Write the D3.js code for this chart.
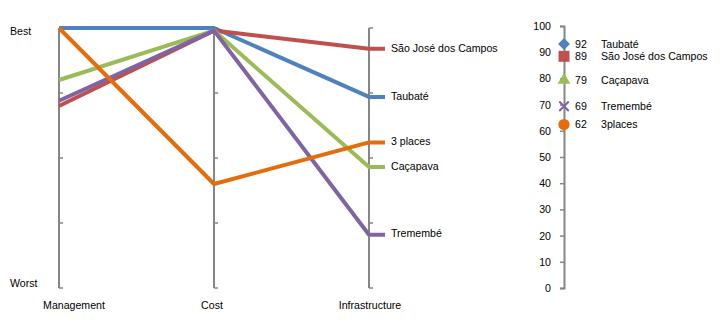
<!DOCTYPE html>
<html>
<head>
<meta charset="utf-8">
<script src="https://cdn.jsdelivr.net/npm/d3@7"></script>
<style>
  body { margin: 0; background: #fff; }
  svg text { font-family: "Liberation Sans", Arial, sans-serif; font-size: 10.6px; fill: #000; }
</style>
</head>
<body>
<div id="chart"></div>
<script>
// criteria on the parallel axes
const criteria = ["Management", "Cost", "Infrastructure"];
const places = ["Taubaté", "São José dos Campos", "Caçapava", "Tremembé", "3 places"];
const taubate = [100, 100, 73.5];
const saoJose = [70, 99, 92];
const cacapava = [80, 99, 46.5];
const tremembe = [72, 99, 20.5];
const threePlaces = [100, 40, 56];
const rankLabels = ["Best", "Worst"];

// overall score (right-hand axis)
const scoreNames = ["Taubaté", "São José dos Campos", "Caçapava", "Tremembé", "3places"];
const scores = [92, 89, 79, 69, 62];
const scoreTicks = [0, 10, 20, 30, 40, 50, 60, 70, 80, 90, 100];

const colors = ["#4F81BD", "#C0504D", "#9BBB59", "#8064A2", "#E46C0A"];
// diamond = square turned 45deg (d3's own diamond is too narrow)
const shapes = [d3.symbolSquare, d3.symbolSquare, d3.symbolTriangle, d3.symbolX, d3.symbolCircle];
const shapeSizes = [70, 120, 70, 60, 100];
const shapeRotate = [45, 0, 0, 0, 0];

const width = 723, height = 324;
const svg = d3.select("#chart").append("svg")
    .attr("width", width)
    .attr("height", height);

const x = d3.scalePoint().domain(criteria).range([59, 369]);
const y = d3.scaleLinear().domain([0, 100]).range([288, 28]);
const axisColor = "#868686";

// parallel axes
criteria.forEach(c => {
    const g = svg.append("g").attr("transform", `translate(${x(c)},0)`);
    g.append("line")
        .attr("y1", y(0)).attr("y2", y(100))
        .attr("stroke", axisColor).attr("stroke-width", 2);
    g.selectAll(".tk").data([0, 25, 50, 75, 100]).enter().append("line")
        .attr("x1", 0).attr("x2", 4)
        .attr("y1", d => y(d)).attr("y2", d => y(d))
        .attr("stroke", axisColor).attr("stroke-width", 1.5);
});

svg.selectAll(".cat").data(criteria).enter().append("text")
    .attr("x", (d, i) => x(d) + (i === 0 ? 15 : i === 1 ? -2 : 1))
    .attr("y", 305)
    .attr("dy", "0.35em")
    .attr("text-anchor", "middle")
    .text(d => d);

svg.append("text").attr("x", 10).attr("y", y(100) + 3).attr("dy", "0.35em").text(rankLabels[0]);
svg.append("text").attr("x", 10).attr("y", y(0) - 5).attr("dy", "0.35em").text(rankLabels[1]);

// series lines
const series = [taubate, saoJose, cacapava, tremembe, threePlaces];
const stub = 16;
const line = d3.line().x(d => d[0]).y(d => y(d[1]));
series.forEach((vals, i) => {
    const pts = vals.map((v, j) => [x(criteria[j]), v]);
    pts.push([x(criteria[criteria.length - 1]) + stub, vals[vals.length - 1]]);
    svg.append("path")
        .datum(pts)
        .attr("d", line)
        .attr("fill", "none")
        .attr("stroke", colors[i])
        .attr("stroke-width", 4)
        .attr("stroke-linejoin", "round");
    svg.append("text")
        .attr("x", x(criteria[criteria.length - 1]) + stub + 6)
        .attr("y", y(vals[vals.length - 1]) - 1)
        .attr("dy", "0.35em")
        .text(places[i]);
});

// score axis on the right
const ys = d3.scaleLinear().domain([0, 100]).range([288, 26]);
const sx = 564;
const scoreAxis = svg.append("g")
    .attr("transform", `translate(${sx},0)`)
    .call(d3.axisLeft(ys).tickValues(scoreTicks).tickSize(4).tickPadding(9).tickSizeOuter(4));
scoreAxis.select(".domain").attr("stroke", axisColor).attr("stroke-width", 2);
scoreAxis.selectAll(".tick line").attr("stroke", axisColor).attr("stroke-width", 1.5);
scoreAxis.selectAll(".tick text")
    .style("font-family", "Liberation Sans, Arial, sans-serif")
    .style("font-size", "10.6px")
    .attr("fill", "#000");

// Taubaté and São José sit close together, so nudge them apart a little
const nudge = [-2, 2.5, 0, 0, 0];
scores.forEach((s, i) => {
    const cy = ys(s) - 1 + nudge[i];
    svg.append("path")
        .attr("transform", `translate(${sx},${cy}) rotate(${shapeRotate[i]})`)
        .attr("d", d3.symbol().type(shapes[i]).size(shapeSizes[i])())
        .attr("fill", i === 3 ? "none" : colors[i])
        .attr("stroke", colors[i])
        .attr("stroke-width", i === 3 ? 2 : 0);
    svg.append("text")
        .attr("x", sx + 11).attr("y", cy).attr("dy", "0.35em")
        .text(s);
    svg.append("text")
        .attr("x", 601).attr("y", cy).attr("dy", "0.35em")
        .text(scoreNames[i]);
});
</script>
</body>
</html>
